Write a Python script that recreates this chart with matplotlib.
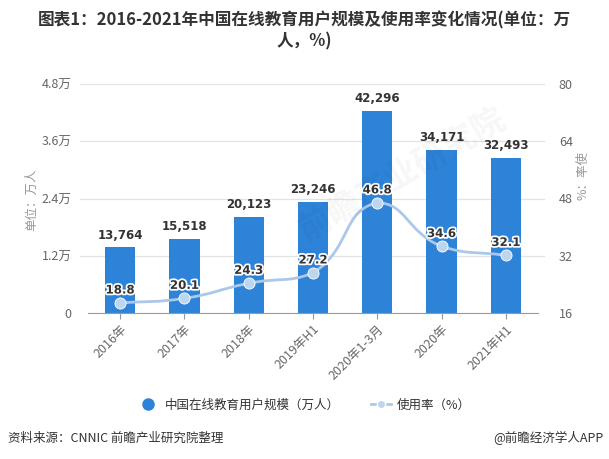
import numpy as np
import matplotlib
matplotlib.use('Agg')
import matplotlib.pyplot as plt
import matplotlib.patheffects as pe
from matplotlib.path import Path
from matplotlib.patches import PathPatch
from matplotlib.lines import Line2D

plt.rcParams['font.family'] = ['Noto Sans CJK SC', 'DejaVu Sans']
plt.rcParams['axes.unicode_minus'] = False

# 数据
categories = ['2016年', '2017年', '2018年', '2019年H1', '2020年1-3月', '2020年', '2021年H1']
users = [13764, 15518, 20123, 23246, 42296, 34171, 32493]   # 万人
rate = [18.8, 20.1, 24.3, 27.2, 46.8, 34.6, 32.1]            # %
left_ticks = [0, 12000, 24000, 36000, 48000]
left_labels = ['0', '1.2万', '2.4万', '3.6万', '4.8万']
right_ticks = [16, 32, 48, 64, 80]

bar_color = '#2d83d8'
line_color = '#aac8e9'
marker_color = '#bcd6f0'

fig = plt.figure(figsize=(6.09, 4.59), dpi=100)
ax = fig.add_axes([88 / 609, 1 - 313 / 459, 450 / 609, 229 / 459])
ax2 = ax.twinx()

x = np.arange(len(categories))
ax.bar(x, users, width=0.47, color=bar_color, zorder=2)
ax.set_xlim(-0.5, len(categories) - 0.5)
ax.set_ylim(0, 48000)
ax2.set_ylim(16, 80)

# 网格线
for t in left_ticks[1:]:
    ax.plot([-0.62, len(categories) - 0.4], [t, t], color='#e3e3e3', lw=0.9,
            clip_on=False, zorder=0)

for s in ['top', 'right', 'left']:
    ax.spines[s].set_visible(False)
    ax2.spines[s].set_visible(False)
ax2.spines['bottom'].set_visible(False)
ax.spines['bottom'].set_color('#999999')

ax.set_yticks(left_ticks)
ax.set_yticklabels(left_labels)
ax.tick_params(axis='y', length=0, pad=12, labelsize=9, labelcolor='#666666')
ax2.set_yticks(right_ticks)
ax2.tick_params(axis='y', length=0, pad=15, labelsize=9, labelcolor='#666666')

ax.set_xticks(x)
ax.set_xticklabels(categories, rotation=45, ha='right', rotation_mode='anchor')
ax.tick_params(axis='x', length=4, color='#999999', pad=3, labelsize=9, labelcolor='#666666')

# 柱子数值
for xi, v in zip(x, users):
    ax.text(xi, v + 1200, f'{v:,}', ha='center', va='bottom', fontsize=8.5,
            fontweight='bold', color='#333333', family=['DejaVu Sans'])

# 平滑曲线（仿 echarts smooth 的贝塞尔控制点）
ky = (229 / 64) / 64.3   # 让 x/y 距离按像素比例计算
pts = np.column_stack([x, np.array(rate) * ky])
n = len(pts)
cp_in, cp_out = [], []
for i in range(n):
    p = pts[i]
    prev = pts[i - 1] if i > 0 else p
    nxt = pts[i + 1] if i < n - 1 else p
    v = (nxt - prev) * 0.5
    d0 = np.hypot(*(p - prev))
    d1 = np.hypot(*(p - nxt))
    tot = d0 + d1
    if tot > 0:
        d0, d1 = d0 / tot, d1 / tot
    c0 = p - v * d0
    c1 = p + v * d1
    c0 = np.clip(c0, np.minimum(prev, p), np.maximum(prev, p))
    c1 = np.clip(c1, np.minimum(nxt, p), np.maximum(nxt, p))
    cp_in.append(c0)
    cp_out.append(c1)
verts = [pts[0]]
codes = [Path.MOVETO]
for i in range(n - 1):
    verts += [cp_out[i], cp_in[i + 1], pts[i + 1]]
    codes += [Path.CURVE4] * 3
verts = np.array(verts)
verts[:, 1] = verts[:, 1] / ky
ax2.add_patch(PathPatch(Path(verts, codes), facecolor='none', edgecolor=line_color,
                        lw=2, zorder=3))
ax2.plot(x, rate, 'o', color=marker_color, markersize=8, markeredgecolor='white',
         markeredgewidth=0.6, zorder=4)
for xi, v in zip(x, rate):
    ax2.text(xi, v + 1.8, f'{v}', ha='center', va='bottom', fontsize=8.5,
             fontweight='bold', color='#333333', family=['DejaVu Sans'], zorder=5,
             path_effects=[pe.withStroke(linewidth=2.5, foreground='white')])

# 轴标题
fig.text(32 / 609, 1 - 200 / 459, '单位：万人', rotation=90, ha='center', va='center',
         fontsize=9, color='#999999')
fig.text(583 / 609, 1 - 175 / 459, '%：率使', rotation=90, ha='center', va='center',
         fontsize=9, color='#999999')

# 标题
fig.text(0.5, 1 - 20 / 459, '图表1：2016-2021年中国在线教育用户规模及使用率变化情况(单位：万',
         ha='center', va='center', fontsize=12, fontweight='bold', color='#333333')
fig.text(0.5, 1 - 41 / 459, '人，%)', ha='center', va='center', fontsize=12,
         fontweight='bold', color='#333333')

# 水印
fig.text(0.66, 0.62, '前瞻产业研究院', rotation=30, ha='center', va='center',
         fontsize=24, fontweight='bold', color='#000000', alpha=0.035)

# 图例
handles = [
    Line2D([], [], linestyle='none', marker='o', markersize=8, color=bar_color),
    Line2D([], [], color=line_color, lw=2, marker='o', markersize=6,
           markerfacecolor=marker_color, markeredgecolor='white'),
]
fig.legend(handles, ['中国在线教育用户规模（万人）', '使用率（%）'], loc='center',
           bbox_to_anchor=(0.5, 1 - 405 / 459), ncol=2, frameon=False, fontsize=9,
           handlelength=1.6, columnspacing=2.5, handletextpad=0.5,
           labelcolor='#333333')

# 来源
fig.text(8 / 609, 1 - 438 / 459, '资料来源：CNNIC 前瞻产业研究院整理', ha='left',
         va='center', fontsize=9, color='#333333')
fig.text(603 / 609, 1 - 438 / 459, '@前瞻经济学人APP', ha='right', va='center',
         fontsize=9, color='#333333')

fig.savefig('out.png', dpi=100)
